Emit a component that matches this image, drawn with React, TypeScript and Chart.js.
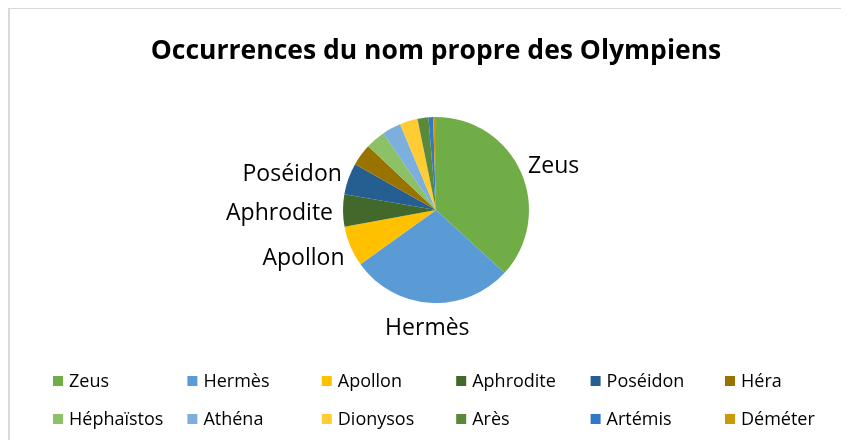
import React, { useEffect, useRef } from "react";
import { Chart, registerables } from "chart.js";

Chart.register(...registerables);

const TITLE = "Occurrences du nom propre des Olympiens";
const gods = [
  "Zeus", "Hermès", "Apollon", "Aphrodite", "Poséidon", "Héra",
  "Héphaïstos", "Athéna", "Dionysos", "Arès", "Artémis", "Déméter",
];
const occurrences = [368, 283, 70, 56, 55, 38, 34, 33, 31, 19, 8, 5];
const colors = [
  "#70AD47", "#5B9BD5", "#FFC000", "#43682B", "#255E91", "#997300",
  "#8CC168", "#7CAFDD", "#FFCD33", "#5A8A39", "#3179C8", "#CC9A06",
];
const labelledCount = 5;

const FONT = "'Open Sans', sans-serif";

const decorPlugin = {
  id: "decor",
  afterDraw(chart: any) {
    const ctx = chart.ctx as CanvasRenderingContext2D;
    ctx.save();
    // title
    ctx.fillStyle = "#000";
    ctx.font = `bold 26.5px ${FONT}`;
    ctx.textAlign = "center";
    ctx.textBaseline = "middle";
    ctx.fillText(TITLE, 426, 42);

    // slice labels
    const meta = chart.getDatasetMeta(0);
    ctx.font = `23px ${FONT}`;
    for (let i = 0; i < labelledCount; i++) {
      const arc = meta.data[i];
      const { x, y, startAngle, endAngle, outerRadius } = arc.getProps(
        ["x", "y", "startAngle", "endAngle", "outerRadius"],
        true
      );
      const mid = (startAngle + endAngle) / 2;
      const dx = Math.cos(mid);
      const dy = Math.sin(mid);
      const r = outerRadius + 10;
      const text = chart.data.labels[i];
      const w = ctx.measureText(text).width;
      const cx = x + dx * r + dx * (w / 2);
      const cy = y + dy * r + dy * 13 + 3;
      ctx.textAlign = "center";
      ctx.textBaseline = "middle";
      ctx.fillText(text, cx, cy);
    }

    // legend
    ctx.font = `18px ${FONT}`;
    ctx.textAlign = "left";
    ctx.textBaseline = "middle";
    const labels = chart.data.labels as string[];
    const bg = chart.data.datasets[0].backgroundColor as string[];
    labels.forEach((lab, i) => {
      const col = i % 6;
      const row = Math.floor(i / 6);
      const bx = 43 + col * 134.4;
      const by = 367 + row * 38;
      ctx.fillStyle = bg[i];
      ctx.fillRect(bx, by, 10, 10);
      ctx.fillStyle = "#000";
      ctx.fillText(lab, bx + 16, by + 6);
    });
    ctx.restore();
  },
};

export default function App() {
  const ref = useRef<HTMLCanvasElement>(null);
  useEffect(() => {
    if (!ref.current) return;
    const chart = new Chart(ref.current, {
      type: "pie",
      data: {
        labels: gods,
        datasets: [
          {
            data: occurrences,
            backgroundColor: colors,
            borderWidth: 0,
          },
        ],
      },
      options: {
        responsive: false,
        animation: false,
        layout: { padding: { left: 333, right: 320, top: 108, bottom: 137 } },
        plugins: {
          legend: { display: false },
          title: { display: false },
          tooltip: { enabled: false },
        },
      },
      plugins: [decorPlugin],
    });
    return () => chart.destroy();
  }, []);
  return (
    <div
      style={{
        position: "relative",
        width: 841,
        height: 433,
        marginTop: -1,
        borderTop: "2px solid #d9d9d9",
        borderLeft: "2px solid #d9d9d9",
        boxSizing: "border-box",
        overflow: "hidden",
        background: "#fff",
      }}
    >
      <canvas
        ref={ref}
        width={839}
        height={431}
        style={{ position: "absolute", left: 0, top: 0, width: 839, height: 431 }}
      />
    </div>
  );
}
